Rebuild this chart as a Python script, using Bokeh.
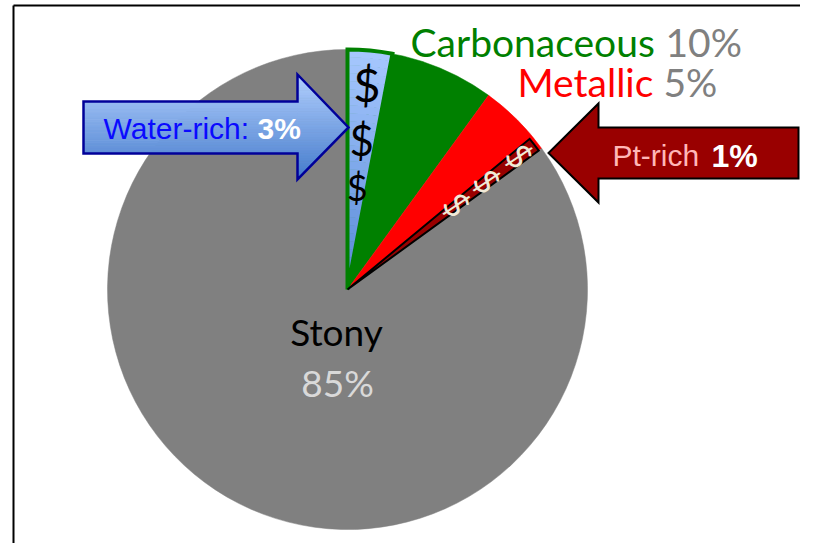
import numpy as np
from bokeh.plotting import figure
from bokeh.models import Range1d
from bokeh.core.properties import value
from bokeh.embed import file_html
from bokeh.resources import INLINE

# ---------------- data ----------------
groups = ["Carbonaceous", "Metallic", "Stony"]
group_pct = [10, 5, 85]
group_colors = ["#008000", "#ff0000", "#808080"]

sub_names = ["Water-rich", "Pt-rich"]
sub_pct = [3, 1]
sub_parent = ["Carbonaceous", "Metallic"]   # Water-rich is part of Carbonaceous, Pt-rich part of Metallic

# ---------------- canvas helpers (picture pixel coords -> data) ----------------
W, H = 800, 543
def X(px):
    return px
def Y(py):
    return H - py

p = figure(width=W, height=H, x_range=Range1d(0, W), y_range=Range1d(0, H),
           output_backend="svg", toolbar_location=None, min_border=0)
p.axis.visible = False
p.grid.visible = False
p.outline_line_color = None
p.background_fill_color = "white"
p.border_fill_color = "white"

# frame lines
p.line(x=[X(13), X(13)], y=[Y(560), Y(5)], line_color="black", line_width=2)
p.line(x=[X(13), X(816)], y=[Y(5), Y(5)], line_color="black", line_width=2)

cx, cy, R = X(347), Y(289), 240.0

def ang(pct):
    return np.pi / 2 - 2 * np.pi * pct / 100.0

# group start/end cumulative
cum = np.concatenate([[0], np.cumsum(group_pct)])
gstart = {g: cum[i] for i, g in enumerate(groups)}
gend = {g: cum[i + 1] for i, g in enumerate(groups)}

p.wedge(x=[cx] * 3, y=[cy] * 3, radius=R,
        start_angle=[ang(c) for c in cum[:-1]], end_angle=[ang(c) for c in cum[1:]],
        direction="clock", fill_color=group_colors, line_color=group_colors, line_width=0.5)

# ----- Water-rich (first 3% of Carbonaceous) with gradient -----
w0 = gstart["Carbonaceous"]
w1 = w0 + sub_pct[0]
n = 30
edges = np.linspace(0, R, n + 1)
top_c = np.array([0xa8, 0xc9, 0xff])
bot_c = np.array([0x55, 0x88, 0xd6])
cols = []
for i in range(n):
    t = (i + 0.5) / n
    c = bot_c + (top_c - bot_c) * t
    cols.append("#%02x%02x%02x" % tuple(int(v) for v in c))
p.annular_wedge(x=[cx] * n, y=[cy] * n, inner_radius=edges[:-1], outer_radius=edges[1:] + 0.5,
                start_angle=ang(w0), end_angle=ang(w1), direction="clock",
                fill_color=cols, line_color=None)
p.wedge(x=cx, y=cy, radius=R, start_angle=ang(w0), end_angle=ang(w1), direction="clock",
        fill_color=None, line_color="#008000", line_width=4, line_join="miter")

wm = ang((w0 + w1) / 2)
for frac, fs in zip([0.86, 0.625, 0.43], ["47px", "42px", "36px"]):
    p.text(x=cx + frac * R * np.cos(wm), y=cy + frac * R * np.sin(wm), text=["$"],
           text_font=value("Lato"), text_font_size=value(fs), text_color="black",
           text_align="center", text_baseline="middle")

# ----- Pt-rich (last 1% of Metallic) -----
p1 = gend["Metallic"]
p0 = p1 - sub_pct[1]
p.wedge(x=cx, y=cy, radius=R * 0.985, start_angle=ang(p0), end_angle=ang(p1), direction="clock",
        fill_color="#990000", line_color="black", line_width=2, line_join="miter")
pm = ang((p0 + p1) / 2)
for frac in [0.91, 0.74, 0.58]:
    p.text(x=cx + frac * R * np.cos(pm), y=cy + frac * R * np.sin(pm), text=["$"],
           angle=pm - np.pi / 2,
           text_font=value("Lato"), text_font_size=value("34px"), text_color="#f0ead8",
           text_align="center", text_baseline="middle")

# ----- arrows -----
def arrow_outline(xb, xbase, xtip, yb0, yb1, yh0, yh1, ymid):
    xs = [xb, xbase, xbase, xtip, xbase, xbase, xb]
    ys = [yb0, yb0, yh0, ymid, yh1, yb1, yb1]
    return [X(v) for v in xs], [Y(v) for v in ys]

def arrow_bands(xb, xbase, xtip, yb0, yb1, yh0, yh1, ymid, c_top, c_bot, nb=40):
    h = ymid - yh0
    def xe(y):
        return xbase + (xtip - xbase) * (1 - abs(y - ymid) / h)
    xs_all, ys_all, cs = [], [], []
    ys = np.linspace(yh0, yh1, nb + 1)
    for i in range(nb):
        y0, y1 = ys[i], ys[i + 1]
        t = (i + 0.5) / nb
        c = np.array(c_top) + (np.array(c_bot) - np.array(c_top)) * t
        col = "#%02x%02x%02x" % tuple(int(v) for v in c)
        a, b = max(y0, yb0), min(y1, yb1)
        if b > a:
            xs_all.append([X(xb), X(xbase), X(xbase), X(xb)])
            ys_all.append([Y(a), Y(a), Y(b), Y(b)])
            cs.append(col)
        pts = [(xbase, y0), (xe(y0), y0)]
        if y0 < ymid < y1:
            pts.append((xtip, ymid))
        pts += [(xe(y1), y1), (xbase, y1)]
        xs_all.append([X(q[0]) for q in pts])
        ys_all.append([Y(q[1]) for q in pts])
        cs.append(col)
    return xs_all, ys_all, cs

# Water-rich arrow (points right)
wa = dict(xb=83, xbase=297, xtip=348, yb0=101, yb1=153, yh0=74, yh1=179, ymid=127)
bx, by, bc = arrow_bands(**wa, c_top=(0xb4, 0xd1, 0xff), c_bot=(0x44, 0x7b, 0xcc))
p.patches(xs=bx, ys=by, fill_color=bc, line_color=bc, line_width=0.8)
ox, oy = arrow_outline(**wa)
p.patch(x=ox, y=oy, fill_color=None, line_color="#000099", line_width=2.5, line_join="miter")

# Pt-rich arrow (points left)
pa = dict(xb=798, xbase=598, xtip=548, yb0=127, yb1=178, yh0=103, yh1=202, ymid=152.5)
ox, oy = arrow_outline(**pa)
p.patch(x=ox, y=oy, fill_color="#990000", line_color="black", line_width=2, line_join="miter")

# ----- labels -----
def label(txt, px, py, color, size, font="Lato", style="normal", align="left"):
    p.text(x=[X(px)], y=[Y(py)], text=[txt], text_font=value(font), text_font_size=value(size),
           text_color=color, text_font_style=style, text_align=align, text_baseline="alphabetic")

label(groups[0], 410, 41, group_colors[0], "39px")
label(f"{group_pct[0]}%", 665, 41, "#808080", "39px")
label(groups[1], 517, 81, group_colors[1], "39px")
label(f"{group_pct[1]}%", 663, 81, "#808080", "39px")
label(groups[2], 336, 331, "black", "37px", align="center")
label(f"{group_pct[2]}%", 337, 382, "#d9d9d9", "37px", align="center")

label(sub_names[0] + ":", 103, 128, "#0a0aff", "30px", font="Liberation Sans")
label(f"{sub_pct[0]}%", 257, 128, "white", "30px", font="Liberation Sans", style="bold")
label(sub_names[1], 612, 155, "#ffb7b7", "30px", font="Liberation Sans")
label(f"{sub_pct[1]}%", 711, 155, "white", "32px", font="Liberation Sans", style="bold")

open("out.html", "w").write(file_html(p, INLINE))
